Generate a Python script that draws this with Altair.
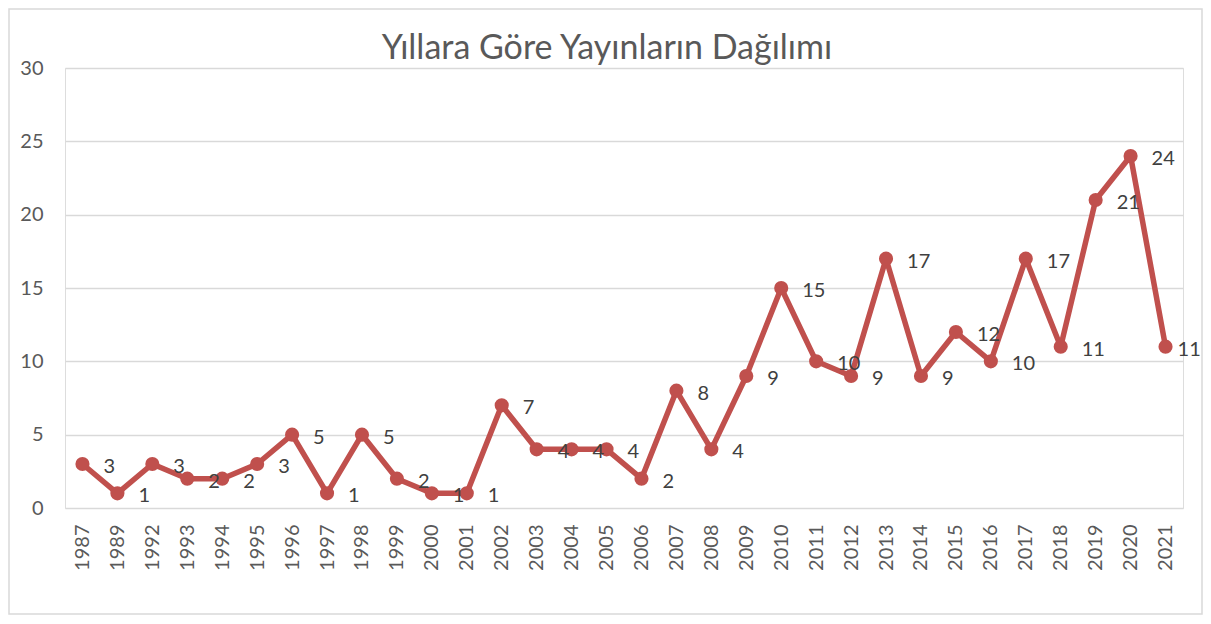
import altair as alt
import pandas as pd

years = ["1987", "1989", "1992", "1993", "1994", "1995", "1996", "1997", "1998", "1999",
         "2000", "2001", "2002", "2003", "2004", "2005", "2006", "2007", "2008", "2009",
         "2010", "2011", "2012", "2013", "2014", "2015", "2016", "2017", "2018", "2019",
         "2020", "2021"]
counts = [3, 1, 3, 2, 2, 3, 5, 1, 5, 2,
          1, 1, 7, 4, 4, 4, 2, 8, 4, 9,
          15, 10, 9, 17, 9, 12, 10, 17, 11, 21,
          24, 11]
title_text = "Yıllara Göre Yayınların Dağılımı"

df = pd.DataFrame({"Yıl": years, "Sayı": counts})

W, H = 1118, 440
FONT = "Lato"
RED = "#C0504D"

x = alt.X("Yıl:N", sort=years, title=None,
          scale=alt.Scale(type="point", padding=0.5),
          axis=alt.Axis(labelAngle=270, labelFontSize=20, labelColor="#595959",
                        labelFont=FONT, ticks=False, domain=False, grid=False,
                        labelPadding=16, labelAlign="right", labelBaseline="middle"))
y = alt.Y("Sayı:Q", title=None,
          scale=alt.Scale(domain=[0, 30], nice=False),
          axis=alt.Axis(values=[0, 5, 10, 15, 20, 25, 30], labelFontSize=20,
                        labelColor="#595959", labelFont=FONT, ticks=False,
                        domain=False, gridColor="#d9d9d9", gridWidth=1.3,
                        labelPadding=22))

base = alt.Chart(df)

line = base.mark_line(color=RED, strokeWidth=5.5, strokeJoin="round",
                      strokeCap="round").encode(x=x, y=y)
pts = base.mark_point(filled=True, color=RED, size=200, opacity=1).encode(x=x, y=y)
labels = base.transform_filter(alt.datum["Yıl"] != years[-1]).mark_text(
    align="left", baseline="middle", dx=21, dy=3,
    fontSize=20, font=FONT, color="#404040").encode(x=x, y=y, text="Sayı:Q")
last_label = base.transform_filter(alt.datum["Yıl"] == years[-1]).mark_text(
    align="left", baseline="middle", dx=12, dy=3,
    fontSize=20, font=FONT, color="#404040").encode(x=x, y=y, text="Sayı:Q")

one = pd.DataFrame({"t": [title_text]})
border = alt.Chart(one).mark_rect(
    fill=None, stroke="#d9d9d9", strokeWidth=1.5, clip=False).encode(
    x=alt.value(-56), x2=alt.value(W + 19),
    y=alt.value(-59), y2=alt.value(H + 106))
title = alt.Chart(one).mark_text(
    fontSize=34, font=FONT, color="#595959", align="center",
    baseline="alphabetic").encode(
    x=alt.value(W / 2 - 17), y=alt.value(-9), text="t:N")

chart = alt.layer(border, title, line, pts, labels, last_label).properties(
    width=W, height=H,
    padding={"left": 57, "top": 60, "right": 20, "bottom": 108},
    autosize=alt.AutoSizeParams(type="none"),
).configure_view(stroke=None).configure(background="white")

chart.save("out.html", embed_options={"renderer": "svg", "actions": False})
